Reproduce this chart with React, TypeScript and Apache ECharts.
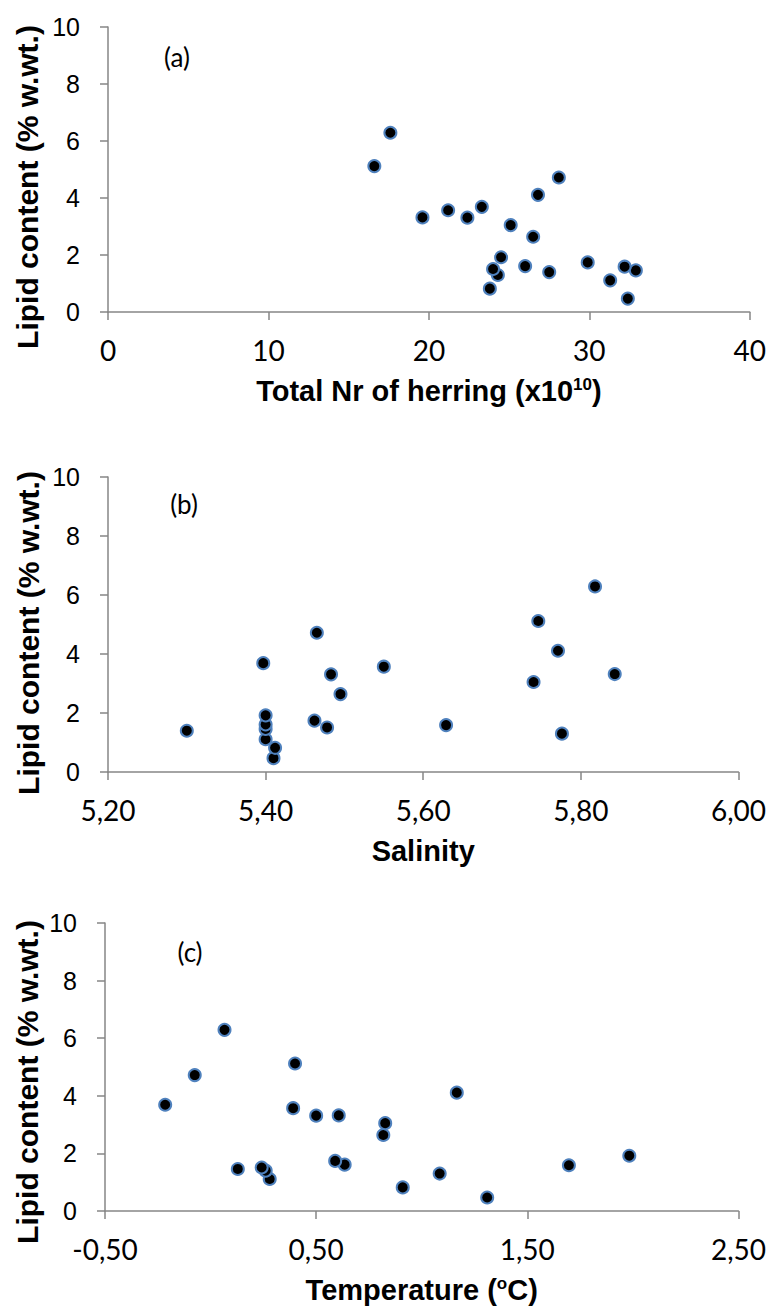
import React, { useEffect, useRef } from "react";
import * as echarts from "echarts";

// Lipid content (% w.wt.) for each sample, shared by all three panels
const lipidContent = [0.47, 0.82, 1.11, 1.30, 1.40, 1.46, 1.51, 1.59, 1.61, 1.74, 1.92, 2.64, 3.05, 3.31, 3.32, 3.57, 3.69, 4.11, 4.72, 5.12, 6.29];
// Total number of herring (x10^10)
const herringTotal = [32.4, 23.8, 31.3, 24.3, 27.5, 32.9, 24.0, 32.2, 26.0, 29.9, 24.5, 26.5, 25.1, 22.4, 19.6, 21.2, 23.3, 26.8, 28.1, 16.6, 17.6];
// Salinity
const salinity = [5.41, 5.412, 5.40, 5.776, 5.30, 5.40, 5.478, 5.629, 5.40, 5.462, 5.40, 5.495, 5.740, 5.483, 5.843, 5.55, 5.397, 5.771, 5.465, 5.746, 5.818];
// Temperature (°C)
const temperature = [1.31, 0.91, 0.28, 1.085, 0.261, 0.129, 0.242, 1.697, 0.635, 0.59, 1.983, 0.818, 0.827, 0.50, 0.607, 0.391, -0.215, 1.166, -0.075, 0.40, 0.066];

const yTicks = [0, 2, 4, 6, 8, 10];
const herringTicks = [0, 10, 20, 30, 40];
const salinityTicks = [5.2, 5.4, 5.6, 5.8, 6.0];
const temperatureTicks = [-0.5, 0.5, 1.5, 2.5];

const panelLabels = ["(a)", "(b)", "(c)"];
const xNames = ["Total Nr of herring (x10{sup|10})", "Salinity", "Temperature ({sup|o}C)"];
const yName = "Lipid content (% w.wt.)";

const ARIAL = '"Liberation Sans", Arial, sans-serif';
const CALIBRI = 'Lato, "Open Sans", sans-serif';
const AXIS_GRAY = "#868686";

export default function App() {
  const ref = useRef<HTMLDivElement>(null);

  useEffect(() => {
    if (!ref.current) return;
    const chart = echarts.init(ref.current, undefined, { renderer: "svg" });

    const grids = [
      { left: 108, top: 27, width: 646, height: 285 },
      { left: 108, top: 477, width: 632, height: 295 },
      { left: 105, top: 923, width: 636, height: 288 },
    ];

    const xDefs = [
      { ticks: herringTicks, fmt: (v: number) => String(Math.round(v)) },
      { ticks: salinityTicks, fmt: (v: number) => v.toFixed(2).replace(".", ",") },
      { ticks: temperatureTicks, fmt: (v: number) => v.toFixed(2).replace(".", ",") },
    ];

    const xSeriesData = [herringTotal, salinity, temperature];

    const xAxis = xDefs.map((d, i) => ({
      type: "value",
      gridIndex: i,
      min: d.ticks[0],
      max: d.ticks[d.ticks.length - 1],
      interval: Math.round((d.ticks[1] - d.ticks[0]) * 1000) / 1000,
      splitLine: { show: false },
      axisLine: { show: true, onZero: false, lineStyle: { color: AXIS_GRAY, width: 1.5 } },
      axisTick: { show: true, inside: false, length: 8, lineStyle: { color: AXIS_GRAY, width: 1.5 }, customValues: d.ticks },
      axisLabel: {
        customValues: d.ticks,
        formatter: d.fmt,
        margin: 24,
        fontFamily: CALIBRI,
        fontSize: 28,
        color: "#000",
      },
      name: xNames[i],
      nameLocation: "middle",
      nameGap: 64,
      nameTextStyle: {
        fontFamily: ARIAL,
        fontWeight: "bold",
        fontSize: 29,
        color: "#000",
        rich: {
          sup: {
            fontFamily: ARIAL,
            fontWeight: "bold",
            fontSize: 17,
            color: "#000",
            verticalAlign: "top",
            padding: [0, 0, 10, 0],
          },
        },
      },
    }));

    const yAxis = [0, 1, 2].map((i) => ({
      type: "value",
      gridIndex: i,
      min: yTicks[0],
      max: yTicks[yTicks.length - 1],
      interval: yTicks[1] - yTicks[0],
      splitLine: { show: false },
      axisLine: { show: true, onZero: false, lineStyle: { color: AXIS_GRAY, width: 1.5 } },
      axisTick: { show: true, inside: false, length: 8, lineStyle: { color: AXIS_GRAY, width: 1.5 } },
      axisLabel: {
        margin: 28,
        fontFamily: ARIAL,
        fontSize: 25,
        color: "#000",
      },
    }));

    const series = xSeriesData.map((xs, i) => ({
      type: "scatter",
      xAxisIndex: i,
      yAxisIndex: i,
      symbol: "circle",
      symbolSize: 12,
      itemStyle: { color: "#000", borderColor: "#4F81BD", borderWidth: 2, opacity: 1 },
      data: xs.map((x, k) => [x, lipidContent[k]]),
    }));

    const yNameCenters = [
      { x: 27, y: 187 },
      { x: 28, y: 633 },
      { x: 27, y: 1082 },
    ];
    const panelLabelPos = [
      { x: 177, y: 57 },
      { x: 184, y: 504 },
      { x: 190, y: 952 },
    ];

    const graphic: any[] = [];
    yNameCenters.forEach((p) => {
      graphic.push({
        type: "text",
        x: p.x,
        y: p.y,
        rotation: Math.PI / 2,
        style: {
          text: yName,
          fontFamily: ARIAL,
          fontWeight: "bold",
          fontSize: 30,
          fill: "#000",
          align: "center",
          verticalAlign: "middle",
        },
      });
    });
    panelLabelPos.forEach((p, i) => {
      graphic.push({
        type: "text",
        x: p.x,
        y: p.y,
        style: {
          text: panelLabels[i],
          fontFamily: CALIBRI,
          fontSize: 26,
          fill: "#000",
          align: "center",
          verticalAlign: "middle",
        },
      });
    });

    chart.setOption({
      animation: false,
      backgroundColor: "#fff",
      grid: grids,
      xAxis,
      yAxis,
      series,
      graphic,
    });

    return () => chart.dispose();
  }, []);

  return (
    <div
      ref={ref}
      style={{ position: "absolute", left: 0, top: 0, width: 769, height: 1309 }}
    />
  );
}
